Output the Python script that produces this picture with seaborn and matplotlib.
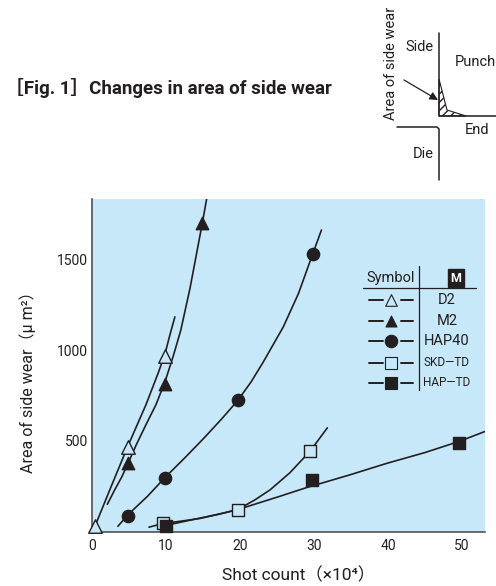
import matplotlib
matplotlib.use("Agg")
import matplotlib.pyplot as plt
import seaborn as sns
import pandas as pd
from matplotlib.patches import Polygon

sns.set_theme(style="white")
plt.rcParams['font.family'] = ['Roboto', 'Liberation Sans', 'Noto Sans CJK JP', 'DejaVu Sans']

W, H = 496, 586
BLUE = "#c6e8f9"
INK = "#231f20"

# measured points on each marker
materials = ["D2", "M2", "HAP40", "SKD-TD", "HAP-TD"]
legend_labels = ["D2", "M2", "HAP40", "SKD\u2015TD", "HAP\u2015TD"]
marker_styles = ["^", "^", "o", "s", "s"]
marker_fills = ["none", INK, INK, BLUE, INK]
marker_sizes = [95, 80, 78, 80, 72]

d2_x = [0.4, 4.8, 9.9]
d2_y = [30, 467, 969]
m2_x = [4.8, 9.9, 14.9]
m2_y = [377, 816, 1698]
hap40_x = [4.9, 9.9, 19.7, 29.8]
hap40_y = [87, 298, 723, 1527]
skd_x = [9.6, 19.7, 29.5]
skd_y = [48, 118, 445]
hap_x = [10, 29.7, 49.6]
hap_y = [33, 282, 491]

# fitted curves
d2_curve_x = [0.4, 2.5, 4.8, 7.3, 9.0, 9.9, 10.5, 11.2]
d2_curve_y = [30, 240, 467, 700, 880, 985, 1080, 1183]
m2_curve_x = [2.07, 3, 4, 4.8, 6, 7.3, 8.65, 9.9, 11, 12, 13.24, 14.9, 15.5]
m2_curve_y = [151, 225, 300, 370, 480, 590, 700, 830, 970, 1110, 1340, 1698, 1835]
hap40_curve_x = [3.5, 4.9, 7.5, 9.9, 12.5, 15, 17.5, 19.7, 21.5, 23.15, 25.85, 27.9, 29.8, 31]
hap40_curve_y = [30, 95, 195, 300, 405, 510, 620, 723, 825, 935, 1128, 1312, 1527, 1661]
skd_curve_x = [7.7, 9.6, 12, 14.6, 17.3, 19.7, 22, 24.05, 26.75, 29.5, 31.8]
skd_curve_y = [25, 45, 58, 73, 98, 122, 175, 230, 325, 445, 572]
hap_curve_x = [10, 14.6, 17.3, 19.7, 25, 29, 35, 39.8, 45, 49.6, 53.1]
hap_curve_y = [35, 75, 98, 122, 190, 243, 315, 376, 436, 497, 552]

curve_xs = [d2_curve_x, m2_curve_x, hap40_curve_x, skd_curve_x, hap_curve_x]
curve_ys = [d2_curve_y, m2_curve_y, hap40_curve_y, skd_curve_y, hap_curve_y]
point_xs = [d2_x, m2_x, hap40_x, skd_x, hap_x]
point_ys = [d2_y, m2_y, hap40_y, skd_y, hap_y]

fig = plt.figure(figsize=(W / 100, H / 100), dpi=100)
ax = fig.add_axes([92 / W, 1 - 531.7 / H, (485 - 92) / W, (531.7 - 199) / H])
ax.set_facecolor(BLUE)

for i, name in enumerate(materials):
    sns.lineplot(x=curve_xs[i], y=curve_ys[i], color=INK, lw=1.2, ax=ax, estimator=None, sort=False, zorder=2)
for i, name in enumerate(materials):
    df = pd.DataFrame({"x": point_xs[i], "y": point_ys[i]})
    sns.scatterplot(data=df, x="x", y="y", marker=marker_styles[i], s=marker_sizes[i],
                    facecolor=BLUE if marker_fills[i] == "none" else marker_fills[i],
                    edgecolor=INK, linewidth=1.0, ax=ax, zorder=3 + i, clip_on=False)

ax.set_xlim(0, 53.1)
ax.set_ylim(0, 1832)
ax.set_xticks([0, 10, 20, 30, 40, 50])
ax.set_yticks([500, 1000, 1500])
ax.tick_params(axis="both", direction="in", length=7, width=1.0, color="#555555", labelsize=10, labelcolor=INK)
ax.tick_params(axis="y", pad=3)
ax.tick_params(axis="x", pad=5)
sns.despine(ax=ax, top=True, right=True)
for s in ["left", "bottom"]:
    ax.spines[s].set_color("#444444")
    ax.spines[s].set_linewidth(1.1)
ax.set_xlabel("")
ax.set_ylabel("")

# overlay in pixel coordinates for title, diagram and symbol table
ov = fig.add_axes([0, 0, 1, 1], facecolor="none")
ov.set_xlim(0, W)
ov.set_ylim(H, 0)
ov.axis("off")

ov.text(28, 378, "Area of side wear\uff08\u03bc m\u00b2\uff09", rotation=90, ha="center", va="center", fontsize=11.5, color=INK)
ov.text(299, 575, "Shot count\uff08\u00d710\u2074\uff09", ha="center", va="center", fontsize=12.5, color=INK)
ov.text(5, 88, "\uff3bFig. 1\uff3dChanges in area of side wear", ha="left", va="center",
        fontsize=13.5, fontweight="bold", color=INK)

# punch / die sketch
ov.plot([439, 439, 496], [33, 116, 116], color=INK, lw=1.1)
ov.plot([397, 437, 439, 439], [127, 127, 129, 180], color=INK, lw=1.1)
ov.add_patch(Polygon([(439, 79), (447, 110), (466, 116), (439, 116)], closed=True,
                     facecolor="none", edgecolor=INK, lw=0.8, hatch="////"))
ov.annotate("", xy=(438, 100), xytext=(404, 80),
            arrowprops=dict(arrowstyle="-|>", color=INK, lw=0.9, shrinkA=0, shrinkB=0))
ov.text(391, 63, "Area of side wear", rotation=90, ha="center", va="center", fontsize=10.5, color=INK)
ov.text(419, 47, "Side", ha="center", va="center", fontsize=10.5, color=INK)
ov.text(475, 62, "Punch", ha="center", va="center", fontsize=10.5, color=INK)
ov.text(477, 130, "End", ha="center", va="center", fontsize=10.5, color=INK)
ov.text(423, 154, "Die", ha="center", va="center", fontsize=10.5, color=INK)

# symbol table
ov.plot([419, 419], [266, 390], color=INK, lw=0.9)
ov.plot([363, 476], [288, 288], color=INK, lw=0.9)
ov.text(391, 278, "Symbol", ha="center", va="center", fontsize=10.5, color=INK)
ov.text(456, 278, "M", ha="center", va="center", fontsize=9, fontweight="bold", color="white",
        bbox=dict(boxstyle="square,pad=0.2", facecolor=INK, edgecolor=INK))
row_y = [300, 321, 341, 363, 383]
table_sizes = [70, 62, 80, 80, 80]
for i, y in enumerate(row_y):
    ov.plot([369, 383], [y, y], color=INK, lw=1.4)
    ov.plot([401, 413], [y, y], color=INK, lw=1.4)
    ov.scatter([391], [y], marker=marker_styles[i], s=table_sizes[i],
               facecolor=BLUE if marker_fills[i] == "none" else marker_fills[i],
               edgecolor=INK, linewidth=0.8, zorder=3)
    fs = 10.5 if i < 3 else 8.5
    ov.text(447, y, legend_labels[i], ha="center", va="center", fontsize=fs, color=INK)

fig.savefig("out.png", dpi=100)
